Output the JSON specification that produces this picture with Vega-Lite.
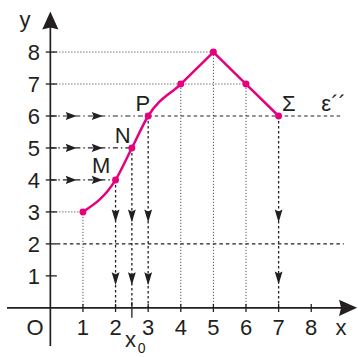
{
  "$schema": "https://vega.github.io/schema/vega-lite/v6.json",
  "width": 358,
  "height": 357,
  "autosize": {"type": "fit", "contains": "padding"},
  "padding": 0,
  "background": "white",
  "config": {"view": {"stroke": null}},
  "datasets": {
    "curve": [
      {"x": 1, "y": 3}, {"x": 2, "y": 4}, {"x": 2.5, "y": 5}, {"x": 3, "y": 6},
      {"x": 4, "y": 7}, {"x": 5, "y": 8}, {"x": 6, "y": 7}, {"x": 7, "y": 6}
    ],
    "rise": [
      {"x": 1, "y": 3}, {"x": 2, "y": 4}, {"x": 2.5, "y": 5}, {"x": 3, "y": 6},
      {"x": 4, "y": 7}, {"x": 5, "y": 8}
    ],
    "fall": [
      {"x": 5, "y": 8}, {"x": 6, "y": 7}, {"x": 7, "y": 6}
    ],
    "axes": [
      {"x": -1.33, "y": 0, "x2": 9.05, "y2": 0},
      {"x": 0, "y": -1.19, "x2": 0, "y2": 8.9}
    ],
    "fineGuides": [
      {"x": 1, "y": 0, "x2": 1, "y2": 3},
      {"x": 4, "y": 0, "x2": 4, "y2": 7},
      {"x": 5, "y": 0, "x2": 5, "y2": 8},
      {"x": 6, "y": 0, "x2": 6, "y2": 7},
      {"x": 0, "y": 3, "x2": 1, "y2": 3},
      {"x": 0, "y": 7, "x2": 6, "y2": 7},
      {"x": 0, "y": 8, "x2": 5, "y2": 8}
    ],
    "dashedGuides": [
      {"x": 3, "y": 6, "x2": 8.96, "y2": 6},
      {"x": 0.2, "y": 2, "x2": 9.0, "y2": 2}
    ],
    "dashDot": [
      {"x": 0, "y": 4, "x2": 2, "y2": 4},
      {"x": 0, "y": 5, "x2": 2.5, "y2": 5},
      {"x": 0, "y": 6, "x2": 3, "y2": 6}
    ],
    "drops": [
      {"x": 2, "y": 4, "x2": 2, "y2": 0},
      {"x": 2.5, "y": 5, "x2": 2.5, "y2": 0},
      {"x": 3, "y": 6, "x2": 3, "y2": 0},
      {"x": 7, "y": 6, "x2": 7, "y2": 0}
    ],
    "ticks": [
      {"x": 1, "y": -0.13, "x2": 1, "y2": 0.12},
      {"x": 2, "y": -0.13, "x2": 2, "y2": 0.12},
      {"x": 2.5, "y": -0.31, "x2": 2.5, "y2": 0.18},
      {"x": 3, "y": -0.13, "x2": 3, "y2": 0.12},
      {"x": 4, "y": -0.13, "x2": 4, "y2": 0.12},
      {"x": 5, "y": -0.13, "x2": 5, "y2": 0.12},
      {"x": 6, "y": -0.13, "x2": 6, "y2": 0.12},
      {"x": 7, "y": -0.13, "x2": 7, "y2": 0.12},
      {"x": 8, "y": -0.13, "x2": 8, "y2": 0.12},
      {"x": -0.14, "y": 1, "x2": 0.2, "y2": 1},
      {"x": -0.14, "y": 2, "x2": 0.2, "y2": 2},
      {"x": -0.14, "y": 3, "x2": 0.2, "y2": 3},
      {"x": -0.14, "y": 4, "x2": 0.2, "y2": 4},
      {"x": -0.14, "y": 5, "x2": 0.2, "y2": 5},
      {"x": -0.14, "y": 6, "x2": 0.2, "y2": 6},
      {"x": -0.14, "y": 7, "x2": 0.2, "y2": 7},
      {"x": -0.14, "y": 8, "x2": 0.2, "y2": 8}
    ],
    "hArrows": [
      {"x": 0.64, "y": 4}, {"x": 1.44, "y": 4},
      {"x": 0.64, "y": 5}, {"x": 1.44, "y": 5},
      {"x": 0.64, "y": 6}, {"x": 1.44, "y": 6}
    ],
    "vArrows": [
      {"x": 2, "y": 2.87}, {"x": 2, "y": 0.91},
      {"x": 2.5, "y": 2.87}, {"x": 2.5, "y": 0.91},
      {"x": 3, "y": 2.87}, {"x": 3, "y": 0.91},
      {"x": 7, "y": 2.87}, {"x": 7, "y": 0.93}
    ],
    "yHead": [{"x": 0, "y": 8.99}],
    "xHead": [{"x": 9.13, "y": 0}],
    "centerLabels": [
      {"x": 1, "y": -0.86, "text": "1"},
      {"x": 2, "y": -0.86, "text": "2"},
      {"x": 3, "y": -0.86, "text": "3"},
      {"x": 4, "y": -0.86, "text": "4"},
      {"x": 5, "y": -0.86, "text": "5"},
      {"x": 6, "y": -0.86, "text": "6"},
      {"x": 7, "y": -0.86, "text": "7"},
      {"x": 8, "y": -0.86, "text": "8"},
      {"x": -0.47, "y": -0.86, "text": "O"},
      {"x": 8.91, "y": -0.86, "text": "x"},
      {"x": -0.78, "y": 8.77, "text": "y"},
      {"x": 1.56, "y": 4.23, "text": "M"},
      {"x": 2.22, "y": 5.15, "text": "N"},
      {"x": 2.84, "y": 6.17, "text": "P"},
      {"x": 7.31, "y": 6.17, "text": "Σ"},
      {"x": 2.46, "y": -1.23, "text": "x"}
    ],
    "yLabels": [
      {"x": -0.32, "y": 1, "text": "1"},
      {"x": -0.32, "y": 2, "text": "2"},
      {"x": -0.32, "y": 3, "text": "3"},
      {"x": -0.32, "y": 4, "text": "4"},
      {"x": -0.32, "y": 5, "text": "5"},
      {"x": -0.32, "y": 6, "text": "6"},
      {"x": -0.32, "y": 7, "text": "7"},
      {"x": -0.32, "y": 8, "text": "8"}
    ],
    "lineLabel": [{"x": 8.31, "y": 6.17, "text": "ε´´"}],
    "subscript": [{"x": 2.8, "y": -1.41, "text": "0"}]
  },
  "encoding": {
    "x": {"field": "x", "type": "quantitative", "scale": {"domain": [-1.544, 9.404], "nice": false, "zero": false}, "axis": null},
    "y": {"field": "y", "type": "quantitative", "scale": {"domain": [-1.256, 9.628], "nice": false, "zero": false}, "axis": null}
  },
  "layer": [
    {
      "data": {"name": "fineGuides"},
      "mark": {"type": "rule", "color": "#333333", "strokeWidth": 1, "strokeDash": [1, 2]},
      "encoding": {"x2": {"field": "x2"}, "y2": {"field": "y2"}}
    },
    {
      "data": {"name": "dashedGuides"},
      "mark": {"type": "rule", "color": "#231f20", "strokeWidth": 1.2, "strokeDash": [3.5, 3]},
      "encoding": {"x2": {"field": "x2"}, "y2": {"field": "y2"}}
    },
    {
      "data": {"name": "dashDot"},
      "mark": {"type": "rule", "color": "#231f20", "strokeWidth": 1.2, "strokeDash": [5, 3, 1.5, 3]},
      "encoding": {"x2": {"field": "x2"}, "y2": {"field": "y2"}}
    },
    {
      "data": {"name": "drops"},
      "mark": {"type": "rule", "color": "#231f20", "strokeWidth": 1.3, "strokeDash": [2.5, 2.5]},
      "encoding": {"x2": {"field": "x2"}, "y2": {"field": "y2"}}
    },
    {
      "data": {"name": "axes"},
      "mark": {"type": "rule", "color": "#231f20", "strokeWidth": 1.7},
      "encoding": {"x2": {"field": "x2"}, "y2": {"field": "y2"}}
    },
    {
      "data": {"name": "ticks"},
      "mark": {"type": "rule", "color": "#231f20", "strokeWidth": 1.3},
      "encoding": {"x2": {"field": "x2"}, "y2": {"field": "y2"}}
    },
    {
      "data": {"name": "hArrows"},
      "mark": {"type": "point", "filled": true, "color": "#231f20", "opacity": 1, "size": 120, "shape": "M1,0L-1,-0.75L-0.7,0L-1,0.75Z"}
    },
    {
      "data": {"name": "vArrows"},
      "mark": {"type": "point", "filled": true, "color": "#231f20", "opacity": 1, "size": 170, "shape": "M0,1L-0.6,-1L0,-0.7L0.6,-1Z"}
    },
    {
      "data": {"name": "yHead"},
      "mark": {"type": "point", "filled": true, "color": "#231f20", "opacity": 1, "size": 324, "shape": "M0,-1L0.9,1L0,0.78L-0.9,1Z"}
    },
    {
      "data": {"name": "xHead"},
      "mark": {"type": "point", "filled": true, "color": "#231f20", "opacity": 1, "size": 324, "shape": "M1,0L-1,0.9L-0.78,0L-1,-0.9Z"}
    },
    {
      "data": {"name": "rise"},
      "mark": {"type": "line", "color": "#e6007e", "strokeWidth": 2.5, "interpolate": "monotone", "strokeCap": "round"}
    },
    {
      "data": {"name": "fall"},
      "mark": {"type": "line", "color": "#e6007e", "strokeWidth": 2.5, "interpolate": "linear", "strokeCap": "round", "strokeJoin": "round"}
    },
    {
      "data": {"name": "curve"},
      "mark": {"type": "point", "filled": true, "color": "#e6007e", "opacity": 1, "size": 48}
    },
    {
      "data": {"name": "centerLabels"},
      "mark": {"type": "text", "font": "Liberation Sans", "fontSize": 22, "color": "#231f20", "align": "center", "baseline": "alphabetic"},
      "encoding": {"text": {"field": "text"}}
    },
    {
      "data": {"name": "yLabels"},
      "mark": {"type": "text", "font": "Liberation Sans", "fontSize": 22, "color": "#231f20", "align": "right", "baseline": "middle", "dy": 1},
      "encoding": {"text": {"field": "text"}}
    },
    {
      "data": {"name": "lineLabel"},
      "mark": {"type": "text", "font": "Liberation Sans", "fontSize": 22, "color": "#231f20", "align": "left", "baseline": "alphabetic"},
      "encoding": {"text": {"field": "text"}}
    },
    {
      "data": {"name": "subscript"},
      "mark": {"type": "text", "font": "Liberation Sans", "fontSize": 14, "color": "#231f20", "align": "center", "baseline": "alphabetic"},
      "encoding": {"text": {"field": "text"}}
    }
  ]
}
